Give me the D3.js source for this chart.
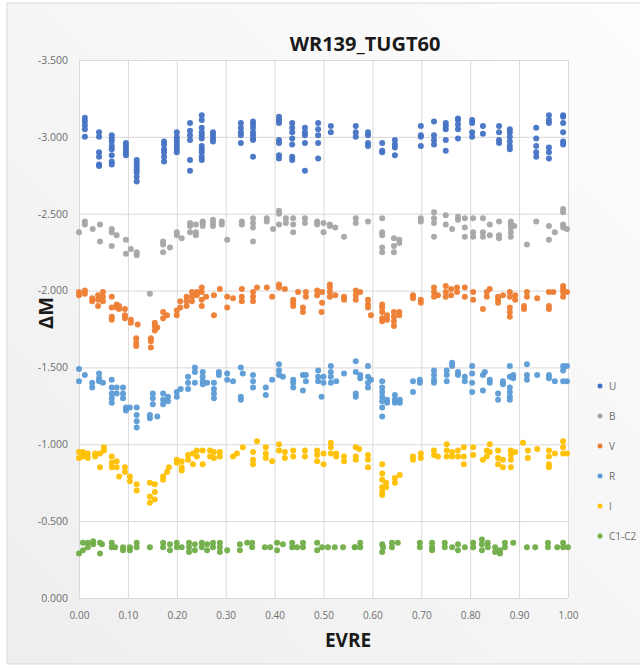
<!DOCTYPE html>
<html>
<head>
    <title>WR139_TUGT60</title>
    <script src="https://d3js.org/d3.v7.min.js"></script>
    <style>
        body {
            margin: 0;
            background: #ffffff;
        }
        svg text {
            font-family: "Open Sans", "Liberation Sans", sans-serif;
        }
    </style>
</head>
<body>
    <svg id="chart" width="640" height="669"></svg>

    <script>
        // each series: [phase, [magnitudes observed around that phase]]
        const seriesU = [
            [0.012, [-3.125, -3.10, -3.075, -3.05, -3.0]],
            [0.041, [-3.03, -3.0, -2.90, -2.87, -2.82, -2.81]],
            [0.067, [-3.01, -2.99, -2.97, -2.94, -2.92, -2.88, -2.84, -2.82]],
            [0.096, [-2.96, -2.94, -2.92, -2.90, -2.88]],
            [0.118, [-2.85, -2.83, -2.81, -2.79, -2.77, -2.74, -2.71]],
            [0.174, [-2.97, -2.95, -2.92, -2.90, -2.87, -2.84]],
            [0.200, [-3.03, -3.0, -2.98, -2.96, -2.94, -2.92, -2.90]],
            [0.227, [-3.09, -3.04, -3.01, -2.98, -2.85, -2.78]],
            [0.251, [-3.14, -3.11, -3.06, -3.03, -3.01, -2.99, -2.94, -2.92, -2.90, -2.87, -2.85]],
            [0.274, [-3.03, -3.01, -2.99, -2.97]],
            [0.331, [-3.09, -3.06, -3.03, -3.01, -2.96]],
            [0.356, [-3.10, -3.08, -3.06, -3.03, -3.01, -2.99, -2.98, -2.87]],
            [0.409, [-3.13, -3.11, -3.09, -2.98, -2.96, -2.88, -2.86]],
            [0.436, [-3.09, -3.06, -3.03, -2.99, -2.95, -2.87, -2.85]],
            [0.462, [-3.06, -3.03, -3.01, -2.96, -2.78]],
            [0.489, [-3.09, -3.05, -3.01, -2.96, -2.86]],
            [0.515, [-3.07, -3.03]],
            [0.566, [-3.07, -3.03, -3.0]],
            [0.591, [-3.03, -3.01, -2.96, -2.94]],
            [0.620, [-2.96, -2.91, -2.90]],
            [0.646, [-2.98, -2.95, -2.93, -2.88]],
            [0.699, [-3.07, -3.01, -3.0, -2.94]],
            [0.726, [-3.10, -3.01, -2.98, -2.95]],
            [0.750, [-3.09, -3.07, -3.05, -2.98, -2.91]],
            [0.775, [-3.12, -3.11, -3.08, -3.05, -2.99]],
            [0.804, [-3.11, -3.09, -3.03, -3.0]],
            [0.826, [-3.07, -3.02]],
            [0.859, [-3.07, -3.03, -2.98, -2.96]],
            [0.881, [-3.05, -3.03, -3.0, -2.97, -2.94, -2.92]],
            [0.935, [-3.06, -2.99, -2.94, -2.90, -2.87]],
            [0.961, [-3.14, -3.11, -3.09, -2.93, -2.90, -2.86]],
            [0.990, [-3.14, -3.13, -3.09, -3.03, -2.97, -2.95]]
        ];

        const seriesB = [
            [0.000, [-2.38]],
            [0.012, [-2.45, -2.43]],
            [0.028, [-2.40]],
            [0.043, [-2.43, -2.32]],
            [0.067, [-2.40, -2.38, -2.29]],
            [0.077, [-2.36]],
            [0.096, [-2.33, -2.24]],
            [0.106, [-2.27]],
            [0.118, [-2.25, -2.23]],
            [0.145, [-1.98]],
            [0.172, [-2.32, -2.30, -2.25]],
            [0.186, [-2.28]],
            [0.200, [-2.38, -2.36]],
            [0.210, [-2.34]],
            [0.227, [-2.44, -2.42, -2.38]],
            [0.239, [-2.43, -2.38, -2.36]],
            [0.253, [-2.45, -2.44, -2.42]],
            [0.274, [-2.46, -2.44, -2.42]],
            [0.292, [-2.45, -2.43]],
            [0.303, [-2.33]],
            [0.333, [-2.45, -2.43]],
            [0.356, [-2.47, -2.44, -2.41, -2.32]],
            [0.384, [-2.47, -2.45]],
            [0.397, [-2.40]],
            [0.409, [-2.52, -2.50, -2.43]],
            [0.423, [-2.47, -2.44]],
            [0.438, [-2.47, -2.43, -2.38]],
            [0.462, [-2.47, -2.44]],
            [0.487, [-2.45, -2.43]],
            [0.500, [-2.44, -2.38]],
            [0.513, [-2.43, -2.42]],
            [0.524, [-2.41]],
            [0.542, [-2.35]],
            [0.566, [-2.47, -2.44]],
            [0.591, [-2.45]],
            [0.620, [-2.47, -2.38, -2.36, -2.28, -2.25]],
            [0.644, [-2.34, -2.29, -2.25]],
            [0.655, [-2.33, -2.31]],
            [0.699, [-2.47, -2.45]],
            [0.726, [-2.51, -2.47, -2.44, -2.35]],
            [0.750, [-2.49, -2.43]],
            [0.763, [-2.40]],
            [0.775, [-2.48, -2.46]],
            [0.789, [-2.47, -2.41, -2.35]],
            [0.806, [-2.47, -2.38, -2.35]],
            [0.826, [-2.47, -2.38, -2.35]],
            [0.840, [-2.43, -2.36]],
            [0.859, [-2.45, -2.36, -2.34]],
            [0.883, [-2.45, -2.43, -2.41, -2.38, -2.35]],
            [0.890, [-2.42]],
            [0.916, [-2.30]],
            [0.935, [-2.45]],
            [0.961, [-2.42, -2.33]],
            [0.973, [-2.38]],
            [0.990, [-2.53, -2.51, -2.43, -2.41]],
            [0.998, [-2.40]]
        ];

        const seriesV = [
            [0.000, [-1.99, -1.97]],
            [0.012, [-2.0, -1.98]],
            [0.027, [-1.95, -1.93]],
            [0.039, [-1.97, -1.94, -1.90]],
            [0.049, [-1.99, -1.96, -1.93]],
            [0.067, [-1.96, -1.89, -1.83, -1.81]],
            [0.077, [-1.91, -1.89]],
            [0.082, [-1.90, -1.88]],
            [0.094, [-1.88, -1.84, -1.82]],
            [0.106, [-1.81, -1.79]],
            [0.120, [-1.78]],
            [0.117, [-1.69, -1.66, -1.64]],
            [0.147, [-1.69, -1.67, -1.63]],
            [0.155, [-1.79, -1.77, -1.74]],
            [0.160, [-1.76]],
            [0.172, [-1.86, -1.82]],
            [0.180, [-1.84]],
            [0.200, [-1.87, -1.84]],
            [0.207, [-1.93, -1.89]],
            [0.220, [-1.96, -1.93, -1.90]],
            [0.231, [-1.99, -1.96, -1.93]],
            [0.241, [-1.99, -1.97]],
            [0.251, [-2.02, -1.99, -1.94, -1.90]],
            [0.260, [-1.96]],
            [0.276, [-1.97, -1.84]],
            [0.288, [-2.01]],
            [0.303, [-1.96, -1.89]],
            [0.315, [-1.95]],
            [0.333, [-2.01, -1.96, -1.93]],
            [0.356, [-1.99, -1.96, -1.93]],
            [0.364, [-2.02]],
            [0.384, [-2.02]],
            [0.395, [-1.96]],
            [0.409, [-2.04, -2.02]],
            [0.421, [-2.01]],
            [0.438, [-1.94, -1.92, -1.90]],
            [0.448, [-1.99]],
            [0.458, [-1.89, -1.86]],
            [0.464, [-1.96, -1.99]],
            [0.487, [-2.0, -1.97]],
            [0.496, [-1.86]],
            [0.497, [-1.99, -1.92]],
            [0.513, [-2.04, -2.02, -1.99, -1.96]],
            [0.524, [-1.97]],
            [0.542, [-1.96, -1.94]],
            [0.566, [-2.0, -1.97, -1.94]],
            [0.575, [-1.99]],
            [0.591, [-1.94, -1.91, -1.89]],
            [0.597, [-1.84]],
            [0.620, [-1.91, -1.89, -1.86, -1.82, -1.80]],
            [0.630, [-1.84, -1.81]],
            [0.644, [-1.86, -1.83, -1.80, -1.77]],
            [0.655, [-1.86, -1.84]],
            [0.683, [-1.97, -1.95]],
            [0.699, [-1.94, -1.92]],
            [0.726, [-2.02, -1.99, -1.96]],
            [0.734, [-1.97]],
            [0.750, [-2.03, -1.99, -1.96]],
            [0.761, [-2.01, -1.97]],
            [0.773, [-2.02, -1.99]],
            [0.789, [-2.02, -1.96]],
            [0.806, [-1.99, -1.94]],
            [0.826, [-1.88]],
            [0.834, [-1.99, -1.96]],
            [0.840, [-2.01]],
            [0.857, [-1.96, -1.94, -1.92]],
            [0.867, [-1.97]],
            [0.881, [-1.99, -1.96, -1.89, -1.86, -1.83]],
            [0.892, [-1.97, -1.94]],
            [0.910, [-1.90, -1.88]],
            [0.916, [-1.99, -1.96]],
            [0.937, [-1.95]],
            [0.961, [-1.99, -1.90, -1.88]],
            [0.970, [-1.99]],
            [0.990, [-2.03, -2.01, -1.99, -1.96]],
            [0.998, [-1.99]]
        ];

        const seriesR = [
            [0.000, [-1.49, -1.41]],
            [0.012, [-1.45]],
            [0.027, [-1.40, -1.37]],
            [0.041, [-1.46, -1.43, -1.41]],
            [0.049, [-1.40]],
            [0.067, [-1.42, -1.37, -1.33, -1.30, -1.27]],
            [0.077, [-1.37, -1.33]],
            [0.090, [-1.37, -1.33, -1.30]],
            [0.096, [-1.24, -1.22]],
            [0.104, [-1.24]],
            [0.118, [-1.24, -1.19, -1.15, -1.11]],
            [0.145, [-1.19, -1.17]],
            [0.151, [-1.33, -1.30, -1.26]],
            [0.160, [-1.18]],
            [0.172, [-1.33, -1.29, -1.26]],
            [0.182, [-1.31, -1.28]],
            [0.200, [-1.34, -1.31]],
            [0.208, [-1.36]],
            [0.223, [-1.44, -1.40, -1.36]],
            [0.237, [-1.50, -1.47, -1.40]],
            [0.253, [-1.47, -1.44, -1.41, -1.39]],
            [0.262, [-1.40]],
            [0.276, [-1.40, -1.36, -1.33, -1.30]],
            [0.286, [-1.47, -1.45]],
            [0.303, [-1.46, -1.42]],
            [0.315, [-1.41]],
            [0.331, [-1.50, -1.31, -1.29]],
            [0.335, [-1.46]],
            [0.356, [-1.45, -1.41, -1.37]],
            [0.382, [-1.37, -1.32]],
            [0.395, [-1.42]],
            [0.409, [-1.52, -1.48, -1.45]],
            [0.417, [-1.44]],
            [0.438, [-1.42, -1.40, -1.37]],
            [0.458, [-1.45, -1.35]],
            [0.464, [-1.45, -1.41]],
            [0.489, [-1.48, -1.44, -1.41]],
            [0.496, [-1.31]],
            [0.500, [-1.44, -1.40]],
            [0.515, [-1.51, -1.47, -1.44, -1.40]],
            [0.526, [-1.41]],
            [0.542, [-1.46]],
            [0.566, [-1.54, -1.47, -1.33, -1.31]],
            [0.575, [-1.45, -1.43]],
            [0.591, [-1.51, -1.44, -1.40, -1.37]],
            [0.597, [-1.42]],
            [0.620, [-1.41, -1.37, -1.34, -1.31, -1.28, -1.24, -1.18]],
            [0.630, [-1.29, -1.27]],
            [0.646, [-1.32, -1.29, -1.27]],
            [0.656, [-1.29, -1.27]],
            [0.683, [-1.41, -1.34]],
            [0.697, [-1.42, -1.40]],
            [0.726, [-1.48, -1.45, -1.42, -1.40]],
            [0.752, [-1.48, -1.45, -1.41]],
            [0.763, [-1.53, -1.51]],
            [0.775, [-1.47, -1.45]],
            [0.789, [-1.44, -1.41]],
            [0.804, [-1.51, -1.46, -1.40, -1.34]],
            [0.826, [-1.45, -1.35]],
            [0.830, [-1.47]],
            [0.840, [-1.42, -1.40]],
            [0.857, [-1.33, -1.29]],
            [0.867, [-1.41, -1.39]],
            [0.881, [-1.51, -1.44, -1.37, -1.34, -1.31, -1.29]],
            [0.888, [-1.45, -1.43]],
            [0.916, [-1.52, -1.45, -1.42]],
            [0.937, [-1.45]],
            [0.961, [-1.45, -1.43]],
            [0.973, [-1.41]],
            [0.990, [-1.51, -1.48, -1.41]],
            [0.998, [-1.51, -1.41]]
        ];

        const seriesI = [
            [0.000, [-0.95, -0.91]],
            [0.008, [-0.95, -0.92]],
            [0.018, [-0.94, -0.91]],
            [0.033, [-0.94, -0.92]],
            [0.043, [-0.94, -0.85]],
            [0.051, [-0.98, -0.96]],
            [0.067, [-0.92, -0.88, -0.85]],
            [0.077, [-0.89, -0.85]],
            [0.082, [-0.79]],
            [0.094, [-0.85, -0.82]],
            [0.104, [-0.79, -0.76]],
            [0.118, [-0.74, -0.70]],
            [0.145, [-0.75, -0.66, -0.62]],
            [0.155, [-0.74, -0.69, -0.64]],
            [0.172, [-0.79, -0.77]],
            [0.180, [-0.82]],
            [0.184, [-0.85]],
            [0.200, [-0.90, -0.88]],
            [0.210, [-0.89, -0.85, -0.83]],
            [0.223, [-0.93, -0.90]],
            [0.233, [-0.94, -0.87]],
            [0.241, [-0.96, -0.92]],
            [0.253, [-0.96, -0.87]],
            [0.268, [-0.96, -0.92]],
            [0.276, [-0.95, -0.91]],
            [0.288, [-0.95, -0.92]],
            [0.315, [-0.92]],
            [0.323, [-0.94]],
            [0.335, [-0.98]],
            [0.356, [-0.95, -0.90, -0.87]],
            [0.364, [-1.02]],
            [0.382, [-0.98, -0.94, -0.91]],
            [0.395, [-0.89]],
            [0.409, [-1.0, -0.96]],
            [0.421, [-0.95, -0.91]],
            [0.438, [-0.96, -0.92]],
            [0.462, [-0.96, -0.92]],
            [0.487, [-0.96, -0.93, -0.89]],
            [0.500, [-0.94, -0.87]],
            [0.515, [-1.01, -0.98, -0.94]],
            [0.526, [-0.94, -0.92]],
            [0.542, [-0.92, -0.89]],
            [0.566, [-0.98, -0.92, -0.90]],
            [0.573, [-0.97]],
            [0.591, [-0.93, -0.90, -0.85]],
            [0.620, [-0.87, -0.81, -0.77, -0.72, -0.69, -0.67]],
            [0.628, [-0.75, -0.72]],
            [0.646, [-0.78, -0.75]],
            [0.656, [-0.80]],
            [0.683, [-0.92, -0.90]],
            [0.699, [-0.94, -0.91]],
            [0.726, [-0.96, -0.93]],
            [0.734, [-0.92]],
            [0.752, [-1.0, -0.96, -0.92]],
            [0.763, [-0.95, -0.92]],
            [0.775, [-0.96, -0.92]],
            [0.787, [-0.98, -0.92, -0.87]],
            [0.806, [-0.98, -0.93]],
            [0.826, [-0.90]],
            [0.834, [-0.96, -0.92]],
            [0.840, [-1.0, -0.95]],
            [0.857, [-0.96, -0.91, -0.87]],
            [0.867, [-0.90, -0.85]],
            [0.883, [-0.96, -0.93, -0.90, -0.85]],
            [0.892, [-0.95]],
            [0.908, [-1.01]],
            [0.918, [-0.96, -0.91]],
            [0.937, [-0.97]],
            [0.961, [-0.96, -0.92, -0.87, -0.85]],
            [0.973, [-0.94]],
            [0.990, [-1.02, -0.98, -0.94]],
            [0.998, [-0.94]]
        ];

        const seriesC = [
            [0.000, [-0.29]],
            [0.008, [-0.36, -0.31]],
            [0.018, [-0.36, -0.33]],
            [0.029, [-0.37, -0.35]],
            [0.043, [-0.36, -0.29]],
            [0.047, [-0.35]],
            [0.067, [-0.36, -0.33]],
            [0.074, [-0.33]],
            [0.090, [-0.33, -0.31]],
            [0.104, [-0.33, -0.31]],
            [0.118, [-0.36, -0.33]],
            [0.145, [-0.33]],
            [0.172, [-0.36, -0.33]],
            [0.186, [-0.35, -0.31]],
            [0.200, [-0.36, -0.33]],
            [0.210, [-0.33]],
            [0.225, [-0.36, -0.33, -0.30]],
            [0.237, [-0.35, -0.31]],
            [0.251, [-0.36, -0.33]],
            [0.262, [-0.35, -0.31]],
            [0.274, [-0.36, -0.33]],
            [0.288, [-0.36, -0.33, -0.30]],
            [0.303, [-0.31]],
            [0.329, [-0.35, -0.31]],
            [0.344, [-0.36]],
            [0.354, [-0.36, -0.33]],
            [0.380, [-0.33]],
            [0.391, [-0.33]],
            [0.405, [-0.36, -0.31]],
            [0.417, [-0.35]],
            [0.436, [-0.36, -0.33]],
            [0.446, [-0.33]],
            [0.458, [-0.36, -0.33]],
            [0.487, [-0.36, -0.31]],
            [0.497, [-0.33]],
            [0.509, [-0.33]],
            [0.523, [-0.33]],
            [0.540, [-0.33]],
            [0.564, [-0.33, -0.33]],
            [0.575, [-0.36, -0.33]],
            [0.620, [-0.35, -0.30]],
            [0.622, [-0.33]],
            [0.640, [-0.36, -0.33]],
            [0.652, [-0.36]],
            [0.697, [-0.36, -0.33]],
            [0.722, [-0.36, -0.33, -0.31]],
            [0.748, [-0.36, -0.33]],
            [0.763, [-0.33]],
            [0.775, [-0.35, -0.31]],
            [0.789, [-0.33]],
            [0.806, [-0.36, -0.33]],
            [0.824, [-0.38, -0.35, -0.31]],
            [0.836, [-0.36, -0.33]],
            [0.851, [-0.33, -0.30]],
            [0.861, [-0.31, -0.29]],
            [0.871, [-0.36, -0.33]],
            [0.888, [-0.36]],
            [0.916, [-0.33]],
            [0.933, [-0.33]],
            [0.959, [-0.36, -0.33]],
            [0.978, [-0.33]],
            [0.990, [-0.36, -0.33]],
            [1.000, [-0.33]]
        ];

        const seriesNames = ['U', 'B', 'V', 'R', 'I', 'C1-C2'];
        const seriesColors = ['#4472c4', '#a5a5a5', '#ed7d31', '#5b9bd5', '#ffc000', '#70ad47'];
        const allSeries = [seriesU, seriesB, seriesV, seriesR, seriesI, seriesC];

        const xTicks = d3.range(0, 1.0001, 0.1);
        const yTicks = d3.range(0, -3.5001, -0.5);

        const svg = d3.select('#chart');

        // chart area background
        const defs = svg.append('defs');
        const grad = defs.append('linearGradient')
            .attr('id', 'bg')
            .attr('x1', '0%').attr('y1', '100%')
            .attr('x2', '100%').attr('y2', '0%');
        grad.append('stop').attr('offset', '0%').attr('stop-color', '#eeeeee');
        grad.append('stop').attr('offset', '100%').attr('stop-color', '#fdfdfd');

        svg.append('rect')
            .attr('x', 7).attr('y', 3)
            .attr('width', 640).attr('height', 661)
            .attr('fill', 'url(#bg)')
            .attr('stroke', '#d9d9d9');

        const x = d3.scaleLinear().domain([0, 1]).range([79, 568]);
        const y = d3.scaleLinear().domain([0, -3.5]).range([598, 60]);

        // plot area
        svg.append('rect')
            .attr('x', x(0)).attr('y', y(-3.5))
            .attr('width', x(1) - x(0)).attr('height', y(0) - y(-3.5))
            .attr('fill', '#ffffff');

        // gridlines
        svg.append('g')
            .attr('transform', `translate(0,${y(-3.5)})`)
            .call(d3.axisBottom(x).tickValues(xTicks).tickSize(y(0) - y(-3.5)).tickFormat(''))
            .call(g => g.select('.domain').remove())
            .call(g => g.selectAll('line').attr('stroke', '#d9d9d9'));

        svg.append('g')
            .attr('transform', `translate(${x(0)},0)`)
            .call(d3.axisRight(y).tickValues(yTicks).tickSize(x(1) - x(0)).tickFormat(''))
            .call(g => g.select('.domain').remove())
            .call(g => g.selectAll('line').attr('stroke', '#d9d9d9'));

        // tick labels
        svg.append('g')
            .attr('transform', `translate(0,${y(0)})`)
            .call(d3.axisBottom(x).tickValues(xTicks).tickSize(0).tickPadding(14).tickFormat(d => d.toFixed(2)))
            .call(g => g.select('.domain').remove())
            .call(g => g.selectAll('text')
                .attr('fill', '#6e6e6e')
                .style('font-size', '10px'));

        svg.append('g')
            .attr('transform', `translate(${x(0)},0)`)
            .call(d3.axisLeft(y).tickValues(yTicks).tickSize(0).tickPadding(11).tickFormat(d => (Math.abs(d) < 1e-9 ? 0 : d).toFixed(3)))
            .call(g => g.select('.domain').remove())
            .call(g => g.selectAll('text')
                .attr('fill', '#6e6e6e')
                .style('font-size', '10.5px'));

        // points
        allSeries.forEach((series, i) => {
            const pts = series.flatMap(([phase, mags]) => mags.map(m => [phase, m]));
            svg.append('g')
                .selectAll('circle')
                .data(pts)
                .enter().append('circle')
                .attr('cx', d => x(d[0]))
                .attr('cy', d => y(d[1]))
                .attr('r', 3)
                .attr('fill', seriesColors[i])
                .attr('fill-opacity', 0.95);
        });

        // titles
        svg.append('text')
            .attr('x', 365).attr('y', 51)
            .attr('text-anchor', 'middle')
            .style('font-size', '20px')
            .style('font-weight', 'bold')
            .attr('fill', '#1a1a1a')
            .text('WR139_TUGT60');

        svg.append('text')
            .attr('x', 348).attr('y', 647)
            .attr('text-anchor', 'middle')
            .style('font-size', '19px')
            .style('font-weight', 'bold')
            .attr('fill', '#1a1a1a')
            .text('EVRE');

        svg.append('text')
            .attr('transform', 'translate(53,313) rotate(-90)')
            .attr('text-anchor', 'middle')
            .style('font-size', '20px')
            .style('font-weight', 'bold')
            .attr('fill', '#1a1a1a')
            .text('ΔM');

        // legend
        const legend = svg.append('g');
        seriesNames.forEach((name, i) => {
            const ly = 386 + i * 30;
            legend.append('circle')
                .attr('cx', 600).attr('cy', ly)
                .attr('r', 2.5)
                .attr('fill', seriesColors[i]);
            legend.append('text')
                .attr('x', 609).attr('y', ly + 3.5)
                .style('font-size', '10px')
                .attr('fill', '#6e6e6e')
                .text(name);
        });
    </script>
</body>
</html>
